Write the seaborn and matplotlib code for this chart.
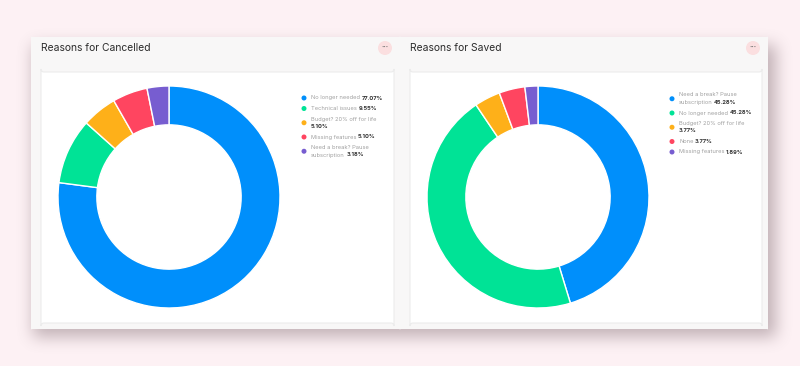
import textwrap
import numpy as np
import matplotlib
matplotlib.use("Agg")
import matplotlib.pyplot as plt
import seaborn as sns
from matplotlib.patches import FancyBboxPatch, Ellipse
from matplotlib.transforms import Affine2D

# data
cancel_labels = ["No longer needed", "Technical issues", "Budget? 20% off for life",
                 "Missing features", "Need a break? Pause subscription"]
cancel_values = [77.07, 9.55, 5.10, 5.10, 3.18]

saved_labels = ["Need a break? Pause subscription", "No longer needed",
                "Budget? 20% off for life", "None", "Missing features"]
saved_values = [45.28, 45.28, 3.77, 3.77, 1.89]

titles = ["Reasons for Cancelled", "Reasons for Saved"]

sns.set_theme(style="white")
plt.rcParams['font.family'] = ['Inter', 'DejaVu Sans']
colors = sns.color_palette(["#008FFB", "#00E396", "#FEB019", "#FF4560", "#775DD0"])

W, H = 800, 366
fig = plt.figure(figsize=(W / 100, H / 100), dpi=100)
fig.patch.set_facecolor("#fdf1f4")

# pixel coords, origin top-left
px = Affine2D().scale(1, -1).translate(0, H).scale(0.01) + fig.dpi_scale_trans


def rbox(x0, y0, x1, y1, fc, ec="none", r=3, z=1):
    p = FancyBboxPatch((x0, y1), x1 - x0, y0 - y1,
                       boxstyle=f"round,pad=0,rounding_size={r}",
                       fc=fc, ec=ec, lw=0.8, transform=px, zorder=z)
    fig.add_artist(p)


# blurred drop shadow under the card strip
mask = np.zeros((H, W))
mask[45:337, 33:776] = 1.0
k = np.ones(15) / 15
for _ in range(3):
    mask = np.apply_along_axis(lambda r: np.convolve(r, k, mode="same"), 1, mask)
    mask = np.apply_along_axis(lambda c: np.convolve(c, k, mode="same"), 0, mask)
shadow = np.zeros((H, W, 4))
shadow[..., :3] = np.array([0.45, 0.36, 0.39])
shadow[..., 3] = mask * 0.42
sax = fig.add_axes([0, 0, 1, 1], zorder=0.5)
sax.imshow(shadow, aspect="auto", interpolation="bilinear")
sax.axis("off")

cards = [(31, 400), (400, 768)]
for (cx0, cx1), title in zip(cards, titles):
    rbox(cx0, 37, cx1, 329, "#f8f7f7", r=1, z=1)
    fig.text(cx0 + 10, 48, title, transform=px, fontsize=7.4, color="#2b2b2b",
             va="center", ha="left", zorder=3)
    bx = cx1 - 15
    fig.add_artist(Ellipse((bx, 48), 14, 14, transform=px, fc="#fbdfe0", ec="none", zorder=2))
    fig.text(bx, 48, "•••", transform=px, fontsize=3, color="#777", ha="center",
             va="center", zorder=3)
    rbox(cx0 + 10, 72, cx1 - 6, 323, "white", ec="#ececec", r=3, z=2)


def draw_donut(cx, cy, r, values):
    ax = fig.add_axes([(cx - r) / W, 1 - (cy + r) / H, 2 * r / W, 2 * r / H])
    ax.pie(values, colors=colors, startangle=90, counterclock=False,
           wedgeprops=dict(width=0.35, edgecolor="white", linewidth=1))
    ax.set_xlim(-1, 1)
    ax.set_ylim(-1, 1)
    ax.set_zorder(3)
    ax.axis("off")


def draw_legend(labels, values, x_dot, y0):
    renderer = fig.canvas.get_renderer()
    x_text = x_dot + 7
    y = y0
    for lab, val, c in zip(labels, values, colors):
        pct = f"{val:.2f}%"
        lines = textwrap.wrap(lab, 24)
        if len(lines[-1]) + 1 + len(pct) > 25:
            lines.append("")
        ys = [y + i * 7.5 for i in range(len(lines))]
        fig.add_artist(Ellipse((x_dot, sum(ys) / len(ys)), 5, 5, transform=px,
                               fc=c, ec="none", zorder=4))
        for i, line in enumerate(lines):
            t = fig.text(x_text, ys[i], line, transform=px, fontsize=4.1,
                         color="#a0a0a0", va="center", ha="left", zorder=4)
            if i == len(lines) - 1:
                w = t.get_window_extent(renderer).width
                xp = x_text + (w + 1.5 if line else 0)
                fig.text(xp, ys[i], pct, transform=px, fontsize=4.1,
                         color="#333333", fontweight="bold", va="center",
                         ha="left", zorder=4)
        y = ys[-1] + 10.5


draw_donut(169, 197, 111, cancel_values)
draw_donut(538, 197, 111, saved_values)
draw_legend(cancel_labels, cancel_values, 304, 98)
draw_legend(saved_labels, saved_values, 672, 95)

fig.savefig("out.png", dpi=100, facecolor=fig.get_facecolor())
